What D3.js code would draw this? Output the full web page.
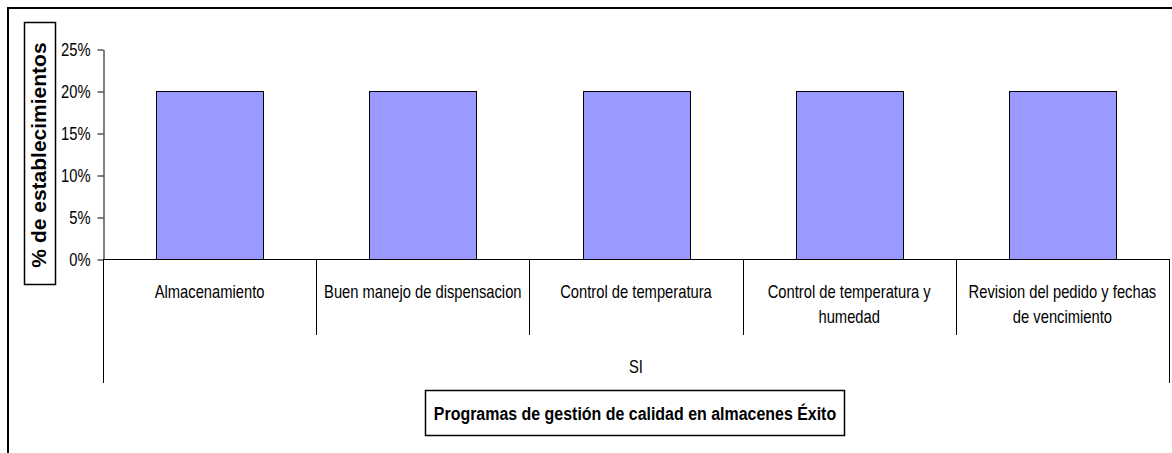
<!DOCTYPE html>
<html><head><meta charset="utf-8">
<script src="https://cdn.jsdelivr.net/npm/d3@7"></script>
<style>
body{margin:0;background:#fff;}
svg{display:block;}
text{font-family:"Liberation Sans",Arial,sans-serif;fill:#000;}
</style></head>
<body>
<svg id="c" width="1172" height="453"></svg>
<script>
const categories = ["Almacenamiento","Buen manejo de dispensacion","Control de temperatura","Control de temperatura y humedad","Revision del pedido y fechas de vencimiento"];
const categoryLines = [["Almacenamiento"],["Buen manejo de dispensacion"],["Control de temperatura"],["Control de temperatura y","humedad"],["Revision del pedido y fechas","de vencimiento"]];
const values = [0.20,0.20,0.20,0.20,0.20];
const groupLabel = "SI";
const yTicks = [0,0.05,0.10,0.15,0.20,0.25];
const yTitle = "% de establecimientos";
const xTitle = "Programas de gestión de calidad en almacenes Éxito";

const NARROW = 0.82;
const svg = d3.select("#c");
const x = d3.scaleBand().domain(categories).range([103,1169]).paddingInner(0).paddingOuter(0);
const y = d3.scaleLinear().domain([0,0.25]).range([259,49]);

function narrowText(sel, px, py, str, size, anchor, weight, sx){
  return sel.append("text").attr("transform",`translate(${px},${py}) scale(${sx||NARROW},1)`)
    .attr("font-size",size).attr("text-anchor",anchor||"middle").attr("font-weight",weight||"normal").text(str);
}

// outer frame
svg.append("path").attr("d","M8,453 L8,8 L1172,8").attr("fill","none").attr("stroke","#000").attr("stroke-width",2);

// bars
const bw = x.bandwidth()*0.5;
svg.selectAll("rect.bar").data(categories).join("rect").attr("class","bar")
  .attr("x",d=>Math.round(x(d)+x.bandwidth()/2-bw/2)+0.5)
  .attr("y",(d,i)=>Math.round(y(values[i]))+0.5)
  .attr("width",Math.round(bw))
  .attr("height",(d,i)=>y(0)-Math.round(y(values[i])))
  .attr("fill","#9999FF").attr("stroke","#000").attr("stroke-width",1);

// y axis
const yAxis = d3.axisLeft(y).tickValues(yTicks).tickFormat(d3.format(".0%")).tickSize(6).tickSizeOuter(0);
const gy = svg.append("g").attr("transform","translate(103.5,0.5)").call(yAxis);
gy.attr("font-family",null).attr("font-size",null);
gy.select(".domain").attr("stroke","#000");
gy.selectAll(".tick line").attr("stroke","#000");
gy.selectAll(".tick text").remove();
gy.selectAll(".tick").each(function(d){
  narrowText(d3.select(this), -13, 6, d3.format(".0%")(d), 18, "end");
});

// category axis line
svg.append("line").attr("x1",103).attr("x2",1169).attr("y1",259.5).attr("y2",259.5).attr("stroke","#000");
// dividers
const bounds = categories.map(d=>x(d)).concat([x.range()[1]]);
svg.selectAll("line.div").data(bounds).join("line").attr("class","div")
  .attr("x1",d=>Math.round(d)+0.5).attr("x2",d=>Math.round(d)+0.5)
  .attr("y1",259).attr("y2",(d,i)=>(i===0||i===bounds.length-1)?383:335)
  .attr("stroke","#000");

// category labels
categories.forEach((d,i)=>{
  categoryLines[i].forEach((ln,j)=>{
    narrowText(svg, x(d)+x.bandwidth()/2, 298+j*25, ln, 18, "middle");
  });
});

// group label
narrowText(svg,(x.range()[0]+x.range()[1])/2, 373, groupLabel, 18, "middle");

// x title box
svg.append("rect").attr("x",425.5).attr("y",390.5).attr("width",419).attr("height",45).attr("fill","#fff").attr("stroke","#000").attr("stroke-width",1.5);
narrowText(svg, 635, 420, xTitle, 19, "middle", "bold", 0.84);

// y title box
svg.append("rect").attr("x",24.5).attr("y",22.5).attr("width",31).attr("height",262).attr("fill","#fff").attr("stroke","#000").attr("stroke-width",1.5);
svg.append("text").attr("font-size",21).attr("font-weight","bold").attr("text-anchor","middle")
  .attr("transform","translate(46,155) rotate(-90)").text(yTitle);
</script>
</body></html>
